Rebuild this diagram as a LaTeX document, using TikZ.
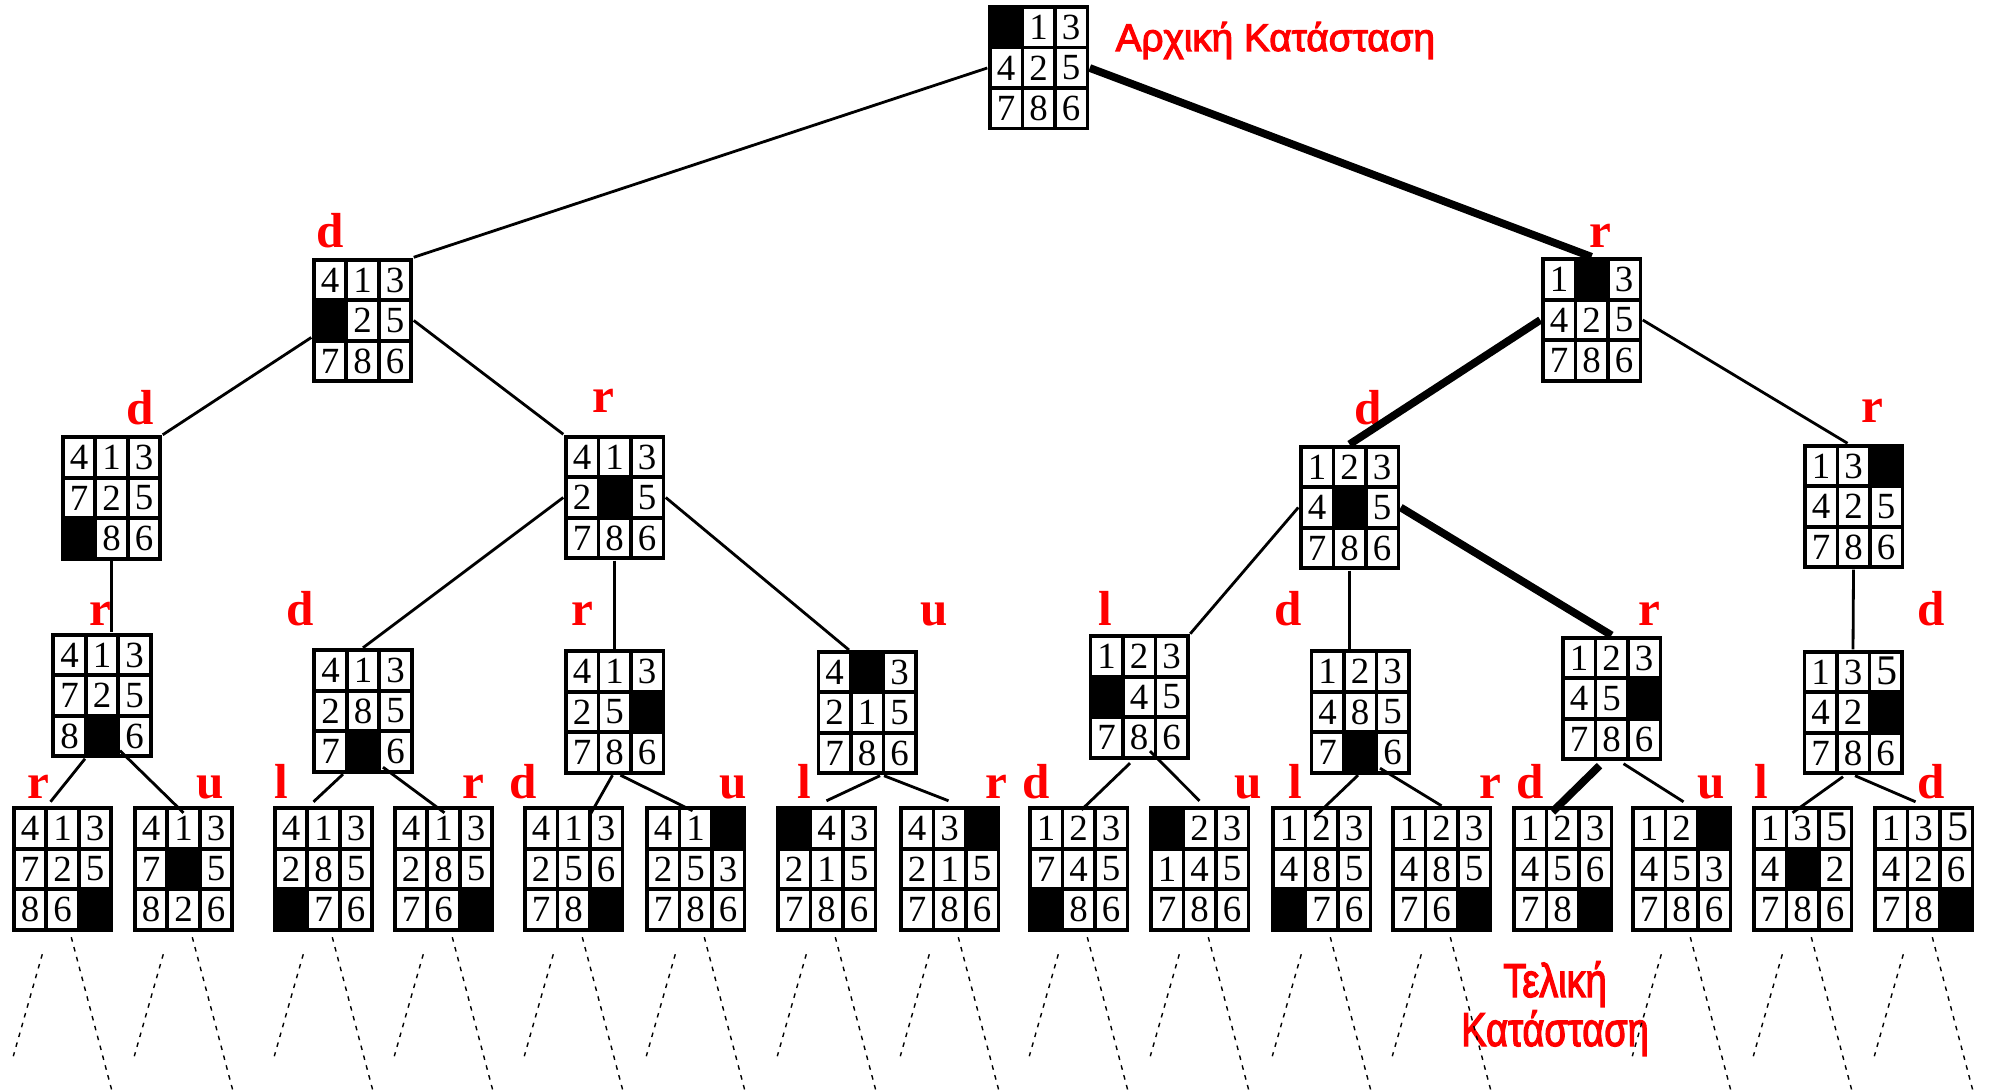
\documentclass[tikz,border=0pt]{standalone}
\usepackage{fontspec}
\setmainfont{Liberation Serif}
\newfontfamily\greekfont[FakeBold=3]{Liberation Sans}
\usetikzlibrary{matrix,calc}

% the odd-looking 5 in the right-hand boards
\newcommand{\oddfive}{\raisebox{1pt}{\fontsize{12}{12}\selectfont\hspace{1pt}5}}

\tikzset{
  board/.style={matrix of nodes, nodes in empty cells, inner sep=0pt,
    column sep=-1pt, row sep=-1pt,
    nodes={draw, line width=1pt, minimum width=3.25mm, minimum height=4.05mm,
      inner sep=0pt, anchor=center, font=\fontsize{10.5}{10.5}\selectfont}},
  hole/.style={fill=black},
  link/.style={line width=0.8pt},
  solution/.style={line width=2.2pt},
  branch/.style={line width=0.4pt, dash pattern=on 1.3pt off 1.6pt},
  movelbl/.style={text=red, font=\fontsize{14}{14}\selectfont\bfseries, anchor=base, inner sep=0pt},
  statelbl/.style={text=red, font=\greekfont\fontsize{11}{13}\selectfont, inner sep=0pt},
}

\begin{document}
\begin{tikzpicture}[x=0.1mm,y=-0.1mm]
  \useasboundingbox (0,0) rectangle (1999,1091);

  % root
  \matrix[board] (root) at (1038.5,68) {|[hole]| & 1 & 3\\ 4 & 2 & 5\\ 7 & 8 & 6\\};
  \node[statelbl, anchor=base west] (start) at (1115,51) {Αρχική Κατάσταση};

  % level 1
  \matrix[board] (L1a) at (362.5,320.5) {4 & 1 & 3\\ |[hole]| & 2 & 5\\ 7 & 8 & 6\\};
  \matrix[board] (L1b) at (1591.5,320) {1 & |[hole]| & 3\\ 4 & 2 & 5\\ 7 & 8 & 6\\};
  \node[movelbl] (m1a) at (330,248) {d};
  \node[movelbl] (m1b) at (1600,248) {r};

  % level 2
  \matrix[board] (L2a) at (111.5,498) {4 & 1 & 3\\ 7 & 2 & 5\\ |[hole]| & 8 & 6\\};
  \matrix[board] (L2b) at (614.5,497.5) {4 & 1 & 3\\ 2 & |[hole]| & 5\\ 7 & 8 & 6\\};
  \matrix[board] (L2c) at (1349.5,507.5) {1 & 2 & 3\\ 4 & |[hole]| & 5\\ 7 & 8 & 6\\};
  \matrix[board] (L2d) at (1853.5,506.5) {1 & 3 & |[hole]|\\ 4 & 2 & 5\\ 7 & 8 & 6\\};
  \node[movelbl] (m2a) at (140,425) {d};
  \node[movelbl] (m2b) at (603,413) {r};
  \node[movelbl] (m2c) at (1368,425) {d};
  \node[movelbl] (m2d) at (1872,423) {r};

  % level 3
  \matrix[board] (L3a) at (102,695.5) {4 & 1 & 3\\ 7 & 2 & 5\\ 8 & |[hole]| & 6\\};
  \matrix[board] (L3b) at (363,711) {4 & 1 & 3\\ 2 & 8 & 5\\ 7 & |[hole]| & 6\\};
  \matrix[board] (L3c) at (614.5,712) {4 & 1 & 3\\ 2 & 5 & |[hole]|\\ 7 & 8 & 6\\};
  \matrix[board] (L3d) at (867,712.5) {4 & |[hole]| & 3\\ 2 & 1 & 5\\ 7 & 8 & 6\\};
  \matrix[board] (L3e) at (1139,697) {1 & 2 & 3\\ |[hole]| & 4 & 5\\ 7 & 8 & 6\\};
  \matrix[board] (L3f) at (1360,712) {1 & 2 & 3\\ 4 & 8 & 5\\ 7 & |[hole]| & 6\\};
  \matrix[board] (L3g) at (1611.5,698.5) {1 & 2 & 3\\ 4 & 5 & |[hole]|\\ 7 & 8 & 6\\};
  \matrix[board] (L3h) at (1853,712.5) {1 & 3 & \oddfive\\ 4 & 2 & |[hole]|\\ 7 & 8 & 6\\};
  \node[movelbl] (m3a) at (100,625) {r};
  \node[movelbl] (m3b) at (300,625) {d};
  \node[movelbl] (m3c) at (582,625) {r};
  \node[movelbl] (m3d) at (934,625) {u};
  \node[movelbl] (m3e) at (1105,625) {l};
  \node[movelbl] (m3f) at (1288,625) {d};
  \node[movelbl] (m3g) at (1649,625) {r};
  \node[movelbl] (m3h) at (1931,625) {d};

  % level 4
  \matrix[board] (L4a) at (62.5,869) {4 & 1 & 3\\ 7 & 2 & 5\\ 8 & 6 & |[hole]|\\};
  \matrix[board] (L4b) at (183.5,869) {4 & 1 & 3\\ 7 & |[hole]| & 5\\ 8 & 2 & 6\\};
  \matrix[board] (L4c) at (323.5,869) {4 & 1 & 3\\ 2 & 8 & 5\\ |[hole]| & 7 & 6\\};
  \matrix[board] (L4d) at (443.5,869) {4 & 1 & 3\\ 2 & 8 & 5\\ 7 & 6 & |[hole]|\\};
  \matrix[board] (L4e) at (573.5,869) {4 & 1 & 3\\ 2 & 5 & 6\\ 7 & 8 & |[hole]|\\};
  \matrix[board] (L4f) at (695.5,869) {4 & 1 & |[hole]|\\ 2 & 5 & 3\\ 7 & 8 & 6\\};
  \matrix[board] (L4g) at (826.5,869) {|[hole]| & 4 & 3\\ 2 & 1 & 5\\ 7 & 8 & 6\\};
  \matrix[board] (L4h) at (949.5,869) {4 & 3 & |[hole]|\\ 2 & 1 & 5\\ 7 & 8 & 6\\};
  \matrix[board] (L4i) at (1078.5,869) {1 & 2 & 3\\ 7 & 4 & 5\\ |[hole]| & 8 & 6\\};
  \matrix[board] (L4j) at (1199.5,869) {|[hole]| & 2 & 3\\ 1 & 4 & 5\\ 7 & 8 & 6\\};
  \matrix[board] (L4k) at (1321.5,869) {1 & 2 & 3\\ 4 & 8 & 5\\ |[hole]| & 7 & 6\\};
  \matrix[board] (L4l) at (1441.5,869) {1 & 2 & 3\\ 4 & 8 & 5\\ 7 & 6 & |[hole]|\\};
  \matrix[board] (L4m) at (1562.5,869) {1 & 2 & 3\\ 4 & 5 & 6\\ 7 & 8 & |[hole]|\\};
  \matrix[board] (L4n) at (1681.5,869) {1 & 2 & |[hole]|\\ 4 & 5 & 3\\ 7 & 8 & 6\\};
  \matrix[board] (L4o) at (1802.5,869) {1 & 3 & \oddfive\\ 4 & |[hole]| & 2\\ 7 & 8 & 6\\};
  \matrix[board] (L4p) at (1923.5,869) {1 & 3 & \oddfive\\ 4 & 2 & 6\\ 7 & 8 & |[hole]|\\};
  \node[movelbl] (m4a) at (38,798) {r};
  \node[movelbl] (m4b) at (210,798) {u};
  \node[movelbl] (m4c) at (281,798) {l};
  \node[movelbl] (m4d) at (473,798) {r};
  \node[movelbl] (m4e) at (523,798) {d};
  \node[movelbl] (m4f) at (733,798) {u};
  \node[movelbl] (m4g) at (804,798) {l};
  \node[movelbl] (m4h) at (996,798) {r};
  \node[movelbl] (m4i) at (1036,798) {d};
  \node[movelbl] (m4j) at (1248,798) {u};
  \node[movelbl] (m4k) at (1295,798) {l};
  \node[movelbl] (m4l) at (1490,798) {r};
  \node[movelbl] (m4m) at (1530,798) {d};
  \node[movelbl] (m4n) at (1711,798) {u};
  \node[movelbl] (m4o) at (1761,798) {l};
  \node[movelbl] (m4p) at (1931,798) {d};

  \node[statelbl, anchor=base, xscale=0.8, font=\greekfont\fontsize{13.5}{14}\selectfont] (goal) at (1555,997) {Τελική};
  \node[statelbl, anchor=base, xscale=0.8, font=\greekfont\fontsize{13.5}{14}\selectfont] (goal2) at (1555,1046) {Κατάσταση};

  % tree edges
  \draw[link] (root.west) -- (L1a.north east);
  \draw[solution] (root.east) -- (L1b.north);
  \draw[link] ($(L1a.west)+(0,17)$) -- (L2a.north east);
  \draw[link] (L1a.east) -- (L2b.north west);
  \draw[solution] (L1b.west) -- (L2c.north);
  \draw[link] (L1b.east) -- ($(L2d.north)+(-6,0)$);
  \draw[link] (L2a.south) -- (L2a.south |- L3a.north);
  \draw[link] (L2b.west) -- (L3b.north);
  \draw[link] (L2b.south) -- (L3c.north);
  \draw[link] (L2b.east) -- (L3d-1-2.north west);
  \draw[link] (L2c.west) -- (L3e.north east);
  \draw[link] (L2c.south) -- (L2c.south |- L3f.north);
  \draw[solution] (L2c.east) -- (L3g.north);
  \draw[link] (L2d.south) -- (L3h.north);

  \draw[link] ($(L3a.south)+(-17,0)$) -- ($(L4a.north)+(-12,-4)$);
  \draw[link] ($(L3a.south)+(18,-8)$) -- ($(L4b.north)+(0,7)$);
  \draw[link] ($(L3b.south)+(-20,0)$) -- ($(L4c.north)+(-10,-4)$);
  \draw[link] ($(L3b.south)+(20,-7)$) -- ($(L4d.north)+(1,7)$);
  \draw[link] ($(L3c.south)+(-2,0)$) -- ($(L4e.north)+(16,10)$);
  \draw[link] ($(L3c.south)+(6,0)$) -- ($(L4f.north)+(-3,5)$);
  \draw[link] ($(L3d.south)+(13,0)$) -- ($(L4g.north)+(0,-5)$);
  \draw[link] ($(L3d.south)+(17,0)$) -- ($(L4h.north)+(-1,-5)$);
  \draw[link] ($(L3e.south)+(-9,3)$) -- ($(L4i.north)+(3,4)$);
  \draw[link] ($(L3e.south)+(11,-9)$) -- ($(L4j.north)+(0,-5)$);
  \draw[link] ($(L3f.south)+(-2,0)$) -- ($(L4k.north)+(-7,11)$);
  \draw[link] ($(L3f.south)+(20,-7)$) -- (L4l.north);
  \draw[solution] ($(L3g.south)+(-12,4)$) -- ($(L4m.north)+(-10,6)$);
  \draw[link] ($(L3g.south)+(12,2)$) -- ($(L4n.north)+(2,-4)$);
  \draw[link] ($(L3h.south)+(-10,1)$) -- ($(L4o.north)+(-10,7)$);
  \draw[link] ($(L3h.south)+(2,0)$) -- ($(L4p.north)+(-8,-4)$);

  % unexpanded subtrees
  \foreach \b in {L4a,L4b,L4c,L4d,L4e,L4f,L4g,L4h,L4i,L4j,L4k,L4l,L4n,L4o,L4p} {
    \draw[branch] ($(\b.south west)+(31,22)$) -- ($(\b.south west)+(2,124)$);
    \draw[branch] ($(\b.south west)+(60,5)$) -- ($(\b.south west)+(101,160)$);
  }
\end{tikzpicture}
\end{document}
